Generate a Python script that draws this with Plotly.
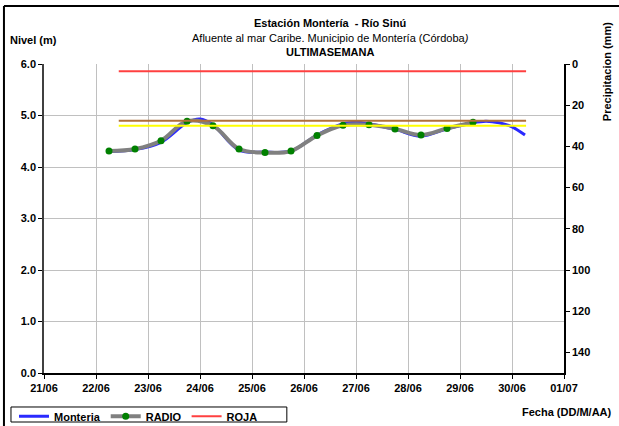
import plotly.graph_objects as go

# RADIO readings (12 h apart)
radio_time = ["2014-06-22 06:00", "2014-06-22 18:00", "2014-06-23 06:00", "2014-06-23 18:00",
              "2014-06-24 06:00", "2014-06-24 18:00", "2014-06-25 06:00", "2014-06-25 18:00",
              "2014-06-26 06:00", "2014-06-26 18:00", "2014-06-27 06:00", "2014-06-27 18:00",
              "2014-06-28 06:00", "2014-06-28 18:00", "2014-06-29 06:00"]
radio_level = [4.31, 4.35, 4.51, 4.89, 4.80, 4.35, 4.28, 4.31,
               4.61, 4.81, 4.82, 4.74, 4.62, 4.75, 4.87]

# Monteria sensor
mont_time = ["2014-06-22 06:00", "2014-06-22 18:00", "2014-06-23 06:00", "2014-06-23 18:00",
             "2014-06-24 00:00", "2014-06-24 06:00", "2014-06-24 18:00", "2014-06-25 06:00",
             "2014-06-25 18:00", "2014-06-26 06:00", "2014-06-26 18:00", "2014-06-27 00:00",
             "2014-06-27 06:00", "2014-06-27 18:00", "2014-06-28 06:00", "2014-06-28 18:00",
             "2014-06-29 06:00", "2014-06-29 12:00", "2014-06-29 18:00", "2014-06-30 00:00",
             "2014-06-30 06:00"]
mont_level = [4.30, 4.34, 4.48, 4.86, 4.93, 4.82, 4.33, 4.29,
              4.31, 4.62, 4.84, 4.87, 4.84, 4.73, 4.60, 4.74,
              4.86, 4.89, 4.86, 4.78, 4.62]

# alert thresholds
level_span = ["2014-06-22 10:30", "2014-06-30 06:30"]
roja = 5.86
naranja = 4.90
amarilla = 4.80

FONT = "Liberation Sans, Arial, sans-serif"

fig = go.Figure()
fig.add_trace(go.Scatter(name="Monteria", x=mont_time, y=mont_level, mode="lines",
                         line=dict(color="#2a2aff", width=3, shape="spline")))
fig.add_trace(go.Scatter(name="RADIO", x=radio_time, y=radio_level, mode="lines+markers",
                         line=dict(color="#808080", width=4, shape="spline"),
                         marker=dict(color="#008000", size=7)))
fig.add_trace(go.Scatter(name="ROJA", x=level_span, y=[roja, roja], mode="lines",
                         line=dict(color="#ff4040", width=2)))
fig.add_trace(go.Scatter(name="NARANJA", x=level_span, y=[naranja, naranja], mode="lines",
                         line=dict(color="#b0703a", width=2), showlegend=False))
fig.add_trace(go.Scatter(name="AMARILLA", x=level_span, y=[amarilla, amarilla], mode="lines",
                         line=dict(color="#ffff00", width=2), showlegend=False))
# empty precipitation series, keeps the right axis
fig.add_trace(go.Scatter(name="Precipitacion", x=[], y=[], yaxis="y2", showlegend=False,
                         hoverinfo="skip"))

tickfont = dict(family=FONT, size=11, color="black", weight="bold")

fig.update_layout(
    width=619, height=426,
    margin=dict(l=44, r=55, t=64, b=53, autoexpand=False),
    paper_bgcolor="white", plot_bgcolor="white",
    font=dict(family=FONT, size=11, color="black"),
    xaxis=dict(type="date", range=["2014-06-21", "2014-07-01"], dtick=86400000,
               tick0="2014-06-21", tickformat="%d/%m", tickfont=tickfont,
               showgrid=True, gridcolor="#c0c0c0", gridwidth=1,
               showline=True, linecolor="black", linewidth=1.5,
               ticks="outside", ticklen=4, tickcolor="black", zeroline=False),
    yaxis=dict(range=[0, 6], dtick=1, tickformat=".1f", tickfont=tickfont,
               showgrid=True, gridcolor="#c0c0c0", gridwidth=1,
               showline=True, linecolor="#404040", linewidth=1.5,
               ticks="outside", ticklen=4, tickcolor="black", zeroline=False),
    yaxis2=dict(overlaying="y", side="right", range=[150, 0], tickvals=[0, 20, 40, 60, 80, 100, 120, 140],
                tickfont=tickfont, showgrid=False, showline=True, linecolor="black",
                linewidth=1.5, ticks="outside", ticklen=4, tickcolor="black", zeroline=False),
    showlegend=True,
    legend=dict(orientation="h", x=-0.0577, y=-0.0929, xanchor="left", yanchor="top",
                borderwidth=0, bgcolor="rgba(0,0,0,0)",
                font=dict(family=FONT, size=11, color="black", weight="bold"),
                itemwidth=30, tracegroupgap=0),
)

def note(text, x, y, xanchor="center", angle=0, size=11):
    fig.add_annotation(text=text, x=x, y=y, xref="paper", yref="paper", showarrow=False,
                       xanchor=xanchor, yanchor="middle", textangle=angle,
                       font=dict(family=FONT, size=size, color="black"))

note("<b>Estación Montería  - Río Sinú</b>", 0.55, 1.133)
note("Afluente al mar Caribe. Municipio de Montería (Córdoba<i>)</i>", 0.55, 1.084)
note("<b>ULTIMASEMANA</b>", 0.55, 1.039)
note("<b>Nivel (m)</b>", -0.069, 1.078, xanchor="left")
note("<b>Precipitacion (mm)</b>", 1.083, 0.974, angle=-90)
note("<b>Fecha (DD/M/AA)</b>", 1.096, -0.126, xanchor="right")

# legend box
fig.add_shape(type="rect", xref="paper", yref="paper", x0=-0.0635, x1=0.467,
              y0=-0.1586, y1=-0.110, line=dict(color="black", width=1))

# outer frame of the chart box
fig.add_shape(type="line", xref="paper", yref="paper", x0=-0.077, x1=1.2,
              y0=1.188, y1=1.188, line=dict(color="black", width=2))
fig.add_shape(type="line", xref="paper", yref="paper", x0=-0.077, x1=-0.077,
              y0=1.188, y1=-0.2, line=dict(color="black", width=2))

# drop the page's default body margin so the figure sits at the window corner
fig.write_html("out.html", config={"displayModeBar": False},
               post_script="document.body.style.margin='0';")
